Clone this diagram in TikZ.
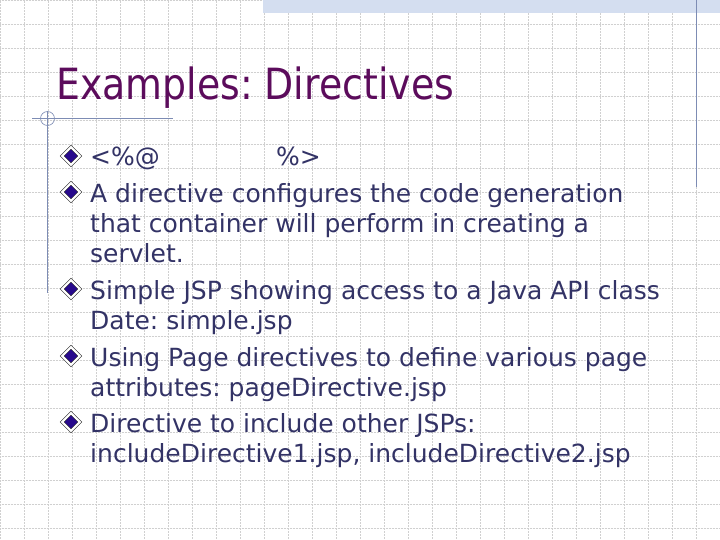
\documentclass[tikz,border=0pt]{standalone}
\usepackage{fontspec}
\setmainfont{DejaVu Sans}
\newfontfamily\titlefont{DejaVu Sans}[FakeStretch=0.88]
\frenchspacing
\definecolor{titlepurple}{RGB}{92,12,92}
\definecolor{textblue}{RGB}{51,51,102}
\definecolor{bulletblue}{RGB}{40,10,140}
\definecolor{rulegray}{RGB}{125,140,180}
\definecolor{bandblue}{RGB}{212,222,240}
\definecolor{gridgray}{RGB}{208,208,208}
\usetikzlibrary{shapes.geometric}
\tikzset{
  gridline/.style={gridgray,densely dotted,line width=0.5pt},
  rule/.style={rulegray,line width=1pt},
  bul/.style={diamond,draw=black!85,double=white,double distance=2pt,line width=0.6pt,
    fill=bulletblue,minimum size=18pt,inner sep=0pt},
  item/.style={anchor=base west,align=left,text=textblue,inner sep=0pt,
    font=\fontsize{25}{30.4}\selectfont},
}
\begin{document}
\begin{tikzpicture}[x=1pt,y=-1pt]
            \useasboundingbox (0,0) rectangle (720,540);
            \fill [white](0,0) rectangle (720,540);
            \draw [gridline](0,0) grid[step=24pt] (720,540);
            \fill [bandblue](263,0) rectangle (720,13);
            \draw [rule](696,0) -- (696,187);
            \draw [rule](32,119) -- (173,119);
            \draw [rule](47.5,111) -- (47.5,293);
            \draw [rule,line width=0.6pt](47.5,118.5) circle (7pt);
            % title
            \node [anchor=base west,inner sep=0pt,text=titlepurple,font=\titlefont\fontsize{43}{50}\selectfont] (title) at (56,100) {Examples: Directives};
            \foreach \n/\y in {1/166,2/202,3/299,4/366,5/432}
              \node [bul] (b\n) at (71,\y-10) {};
            % base = last line of each item
            \node [item] (i1) at (90,166) {\makebox[186pt][l]{<\%@}\%>};
            \node [item] (i2) at (90,262.8) {A directive configures the code generation\\that container will perform in creating a\\servlet.};
            \node [item] (i3) at (90,329.4) {Simple JSP showing access to a Java API class\\Date: simple.jsp};
            \node [item] (i4) at (90,396.4) {Using Page directives to define various page\\attributes: pageDirective.jsp};
            \node [item] (i5) at (90,462.4) {Directive to include other JSPs:\\includeDirective1.jsp, includeDirective2.jsp};
        \end{tikzpicture}
\end{document}
